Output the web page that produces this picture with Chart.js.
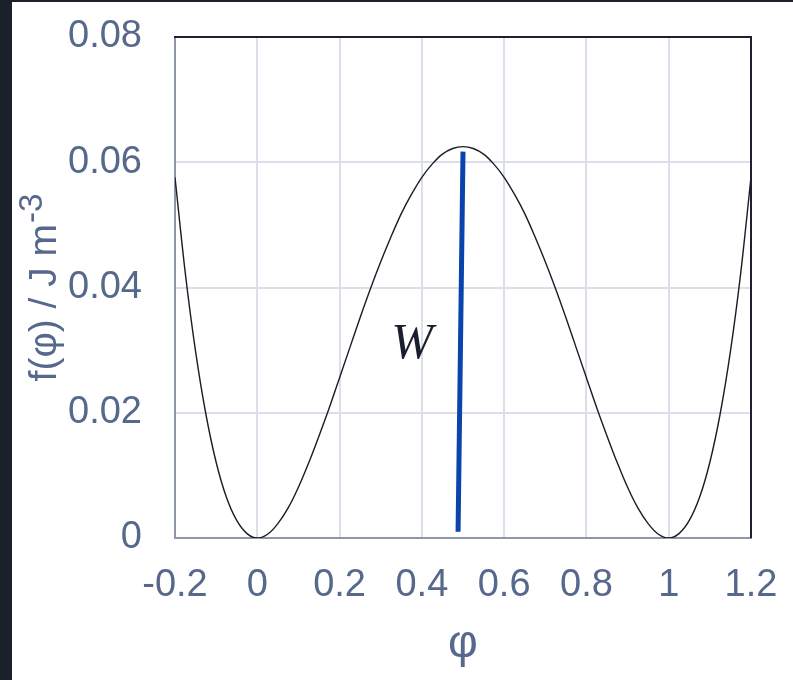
<!DOCTYPE html>
<html lang="en">
<head>
    <meta charset="UTF-8">
    <title>Double-well free energy</title>
    <script src="https://cdn.jsdelivr.net/npm/chart.js@4.4.1/dist/chart.umd.min.js"></script>
    <style>
        body { margin: 0; background: #1b202b; }
        #panel { position: absolute; left: 12px; top: 2px; width: 781px; height: 678px; background: #ffffff; }
    </style>
</head>
<body>
    <div id="panel">
        <canvas id="chart" width="781" height="678"></canvas>
    </div>

    <script>
        // curve f(phi), values
        const phiValues = [
            -0.2, -0.175, -0.15, -0.125, -0.1, -0.075, -0.05, -0.025,
            0, 0.025, 0.05, 0.075, 0.1, 0.125, 0.15, 0.175,
            0.2, 0.225, 0.25, 0.275, 0.3, 0.325, 0.35, 0.375,
            0.4, 0.425, 0.45, 0.475, 0.5, 0.525, 0.55, 0.575,
            0.6, 0.625, 0.65, 0.675, 0.7, 0.725, 0.75, 0.775,
            0.8, 0.825, 0.85, 0.875, 0.9, 0.925, 0.95, 0.975,
            1, 1.025, 1.05, 1.075, 1.1, 1.125, 1.15, 1.175, 1.2
        ];
        const fValues = [
            0.0576, 0.0423, 0.0298, 0.0198, 0.0121, 0.0065, 0.0028, 0.0007,
            0, 0.0006, 0.0023, 0.0048, 0.0081, 0.0120, 0.0163, 0.0208,
            0.0256, 0.0304, 0.0352, 0.0398, 0.0441, 0.0481, 0.0518, 0.0549,
            0.0576, 0.0597, 0.0613, 0.0622, 0.0625, 0.0622, 0.0613, 0.0597,
            0.0576, 0.0549, 0.0518, 0.0481, 0.0441, 0.0398, 0.0352, 0.0304,
            0.0256, 0.0208, 0.0163, 0.0120, 0.0081, 0.0048, 0.0023, 0.0006,
            0, 0.0007, 0.0028, 0.0065, 0.0121, 0.0198, 0.0298, 0.0423, 0.0576
        ];

        // barrier height marker W
        const wX = [0.488, 0.5];
        const wY = [0.001, 0.0617];
        const wLabel = 'W';
        const wLabelPos = [0.376, 0.0308];

        const xTicks = [-0.2, 0, 0.2, 0.4, 0.6, 0.8, 1, 1.2];
        const yTicks = [0, 0.02, 0.04, 0.06, 0.08];
        const xTitle = 'φ';
        const yTitleMain = 'f(φ) / J m';
        const yTitleSup = '-3';

        const labelColor = '#56688c';
        const sans = "'Liberation Sans', Arial, sans-serif";

        const curveData = phiValues.map((x, i) => ({x, y: fValues[i]}));
        const wData = wX.map((x, i) => ({x, y: wY[i]}));

        // top and right frame, W label, y title with superscript
        const extras = {
            id: 'extras',
            afterDraw(chart) {
                const c = chart.ctx;
                const a = chart.chartArea;
                c.save();
                c.strokeStyle = '#1c2030';
                c.lineWidth = 2;
                c.beginPath();
                c.moveTo(a.left - 1, a.top);
                c.lineTo(a.right, a.top);
                c.lineTo(a.right, a.bottom);
                c.stroke();

                const xs = chart.scales.x, ys = chart.scales.y;
                c.fillStyle = '#1a1f2e';
                c.font = "italic 50px 'Liberation Serif', serif";
                c.textAlign = 'center';
                c.textBaseline = 'middle';
                c.fillText(wLabel, xs.getPixelForValue(wLabelPos[0]), ys.getPixelForValue(wLabelPos[1]));

                c.translate(33, 286);
                c.rotate(-Math.PI / 2);
                c.fillStyle = labelColor;
                c.font = '39px ' + sans;
                const mainW = c.measureText(yTitleMain).width;
                c.font = '33px ' + sans;
                const supW = c.measureText(yTitleSup).width;
                const start = -(mainW + supW) / 2;
                c.textAlign = 'left';
                c.textBaseline = 'middle';
                c.font = '39px ' + sans;
                c.fillText(yTitleMain, start, 0);
                c.font = '33px ' + sans;
                c.fillText(yTitleSup, start + mainW + 1, -12);
                c.restore();
            }
        };

        new Chart(document.getElementById('chart'), {
            type: 'scatter',
            data: {
                datasets: [{
                    data: curveData,
                    showLine: true,
                    borderColor: '#1a1c26',
                    borderWidth: 1.4,
                    pointRadius: 0,
                    cubicInterpolationMode: 'monotone'
                }, {
                    data: wData,
                    showLine: true,
                    borderColor: '#0b43ad',
                    borderWidth: 5,
                    pointRadius: 0
                }]
            },
            options: {
                responsive: false,
                animation: false,
                layout: { padding: { top: 35, right: 42, left: 0, bottom: 0 } },
                plugins: { legend: { display: false }, tooltip: { enabled: false } },
                scales: {
                    x: {
                        type: 'linear',
                        min: -0.2,
                        max: 1.2,
                        afterFit: s => { s.height = 142; s.paddingLeft = 0; s.paddingRight = 0; },
                        afterBuildTicks: s => { s.ticks = xTicks.map(v => ({value: v})); },
                        ticks: {
                            color: labelColor,
                            font: { size: 38, family: sans },
                            padding: 25,
                            maxRotation: 0,
                            callback: v => String(v)
                        },
                        grid: { color: '#dadfe9', lineWidth: 2, drawTicks: false },
                        border: { color: '#8e97aa', width: 2 },
                        title: {
                            display: true,
                            text: xTitle,
                            color: labelColor,
                            font: { size: 46, family: sans },
                            padding: { top: 0, bottom: 8 }
                        }
                    },
                    y: {
                        min: 0,
                        max: 0.08,
                        afterFit: s => { s.width = 163; s.paddingTop = 0; s.paddingBottom = 0; },
                        afterBuildTicks: s => { s.ticks = yTicks.map(v => ({value: v})); },
                        ticks: {
                            color: labelColor,
                            font: { size: 38, family: sans },
                            padding: 33,
                            callback: v => String(v)
                        },
                        grid: { color: '#dadfe9', lineWidth: 2, drawTicks: false },
                        border: { color: '#8e97aa', width: 2 }
                    }
                }
            },
            plugins: [extras]
        });
    </script>
</body>
</html>
